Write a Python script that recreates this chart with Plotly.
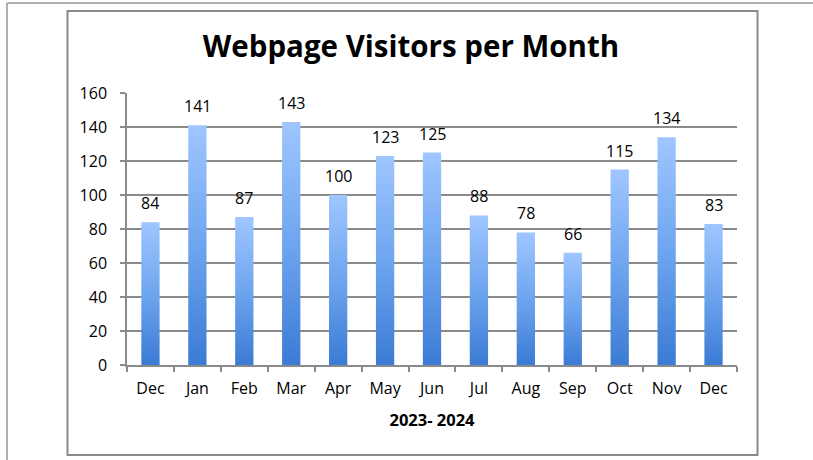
import plotly.graph_objects as go

months = ["Dec", "Jan", "Feb", "Mar", "Apr", "May", "Jun", "Jul", "Aug", "Sep", "Oct", "Nov", "Dec"]
visitors = [84, 141, 87, 143, 100, 123, 125, 88, 78, 66, 115, 134, 83]
y_ticks = [0, 20, 40, 60, 80, 100, 120, 140, 160]

FONT = "Open Sans"
BAR_HALF = 0.195
W, H = 813, 460
L, R, T, B = 127, 76, 93, 95
PW, PH = W - L - R, H - T - B

def px_x(x):
    return (x - L) / PW

def px_y(y):
    return (H - B - y) / PH

fig = go.Figure()
for i, v in enumerate(visitors):
    fig.add_trace(go.Scatter(
        x=[i - BAR_HALF, i + BAR_HALF, i + BAR_HALF, i - BAR_HALF, i - BAR_HALF],
        y=[0, 0, v, v, 0],
        mode="lines", line=dict(width=0), fill="toself",
        fillgradient=dict(type="vertical",
                          colorscale=[[0, "#3b7bd4"], [0.5, "#6ea5ef"], [1, "#9fc6ff"]]),
        hoverinfo="skip", showlegend=False,
    ))

annotations = [
    dict(x=i, y=v, xref="x", yref="y", text=str(v), showarrow=False,
         yanchor="bottom", xanchor="center", yshift=6,
         font=dict(family=FONT, size=16, color="#000"))
    for i, v in enumerate(visitors)
]

shapes = [
    # outer light frame
    dict(type="line", xref="paper", yref="paper", x0=px_x(7), x1=px_x(813), y0=px_y(3), y1=px_y(3),
         line=dict(color="#b0b0b0", width=2)),
    dict(type="line", xref="paper", yref="paper", x0=px_x(7), x1=px_x(7), y0=px_y(3), y1=px_y(460),
         line=dict(color="#b0b0b0", width=2)),
    # chart box
    dict(type="rect", xref="paper", yref="paper", x0=px_x(67.5), x1=px_x(757.5), y0=px_y(11), y1=px_y(455),
         line=dict(color="#8a8a8a", width=2)),
]

fig.update_layout(
    width=W, height=H,
    margin=dict(l=L, r=R, t=T, b=B, pad=0),
    paper_bgcolor="white", plot_bgcolor="white",
    shapes=shapes, annotations=annotations,
    title=dict(text="<b>Webpage Visitors per Month</b>", x=px_x(411), xref="paper", xanchor="center",
               y=1 - 47 / H, yanchor="middle",
               font=dict(family=FONT, size=29.5, color="#000")),
    xaxis=dict(
        range=[-0.5, len(months) - 0.5],
        tickmode="array", tickvals=list(range(len(months))), ticktext=months,
        ticks="", showgrid=False, zeroline=False,
        showline=True, linecolor="#8a8a8a", linewidth=1.5,
        tickfont=dict(family=FONT, size=16, color="#000"),
        ticklabelstandoff=8,
        minor=dict(tickmode="array", tickvals=[i - 0.5 for i in range(len(months) + 1)],
                   ticks="outside", ticklen=5, tickcolor="#8a8a8a", tickwidth=1.5, showgrid=False),
        title=dict(text="<b>2023- 2024</b>", font=dict(family=FONT, size=16.5, color="#000"), standoff=16),
        fixedrange=True,
    ),
    yaxis=dict(
        range=[0, 160], tickmode="array", tickvals=y_ticks,
        ticks="outside", ticklen=5, tickcolor="#8a8a8a", tickwidth=1.5,
        showgrid=True, gridcolor="#8a8a8a", gridwidth=1.5, zeroline=False,
        showline=True, linecolor="#8a8a8a", linewidth=1.5,
        tickfont=dict(family=FONT, size=16, color="#000"),
        ticklabelstandoff=10,
        fixedrange=True,
    ),
)

fig.write_html("out.html", config={"displayModeBar": False},
               post_script="document.body.style.margin='0';document.body.style.overflow='hidden';")
